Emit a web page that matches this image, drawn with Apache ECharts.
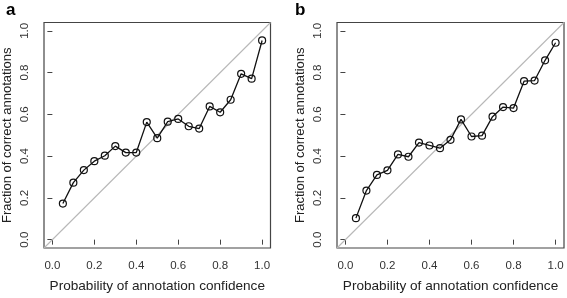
<!DOCTYPE html>
<html>
<head>
<meta charset="utf-8">
<script src="https://cdn.jsdelivr.net/npm/echarts@6/dist/echarts.min.js"></script>
<style>
html,body{margin:0;padding:0;background:#fff;}
#c{width:567px;height:298px;}
</style>
</head>
<body>
<div id="c"></div>
<script>
// Data
const probs = [0.05,0.10,0.15,0.20,0.25,0.30,0.35,0.40,0.45,0.50,0.55,0.60,0.65,0.70,0.75,0.80,0.85,0.90,0.95,1.00];
const fracA = [0.173,0.273,0.333,0.376,0.402,0.448,0.417,0.417,0.563,0.486,0.565,0.578,0.543,0.532,0.638,0.610,0.670,0.794,0.771,0.954];
const fracB = [0.103,0.235,0.310,0.332,0.408,0.397,0.465,0.451,0.438,0.478,0.576,0.494,0.498,0.589,0.635,0.630,0.759,0.762,0.859,0.943];
const tickVals = [0, 0.2, 0.4, 0.6, 0.8, 1.0];
const panelLabels = ['a', 'b'];
const xTitle = 'Probability of annotation confidence';
const yTitle = 'Fraction of correct annotations';
const axMin = -0.04, axMax = 1.04;

const FONT = '"Liberation Sans", Arial, sans-serif';
const grids = [
  {left: 43.5, top: 22.5, width: 227, height: 226.5, show: true, borderColor: '#444', borderWidth: 1.2, backgroundColor: 'transparent'},
  {left: 337, top: 22.5, width: 227, height: 226.5, show: true, borderColor: '#444', borderWidth: 1.2, backgroundColor: 'transparent'}
];
function xAx(i){
  return {
    type: 'value', gridIndex: i, min: axMin, max: axMax,
    splitLine: {show: false},
    axisLine: {show: false},
    axisTick: {show: true, customValues: tickVals, length: 5, inside: false, lineStyle: {color: '#444', width: 1}},
    axisLabel: {customValues: tickVals, margin: 12, color: '#333', fontSize: 11.5, fontFamily: FONT, formatter: v => v.toFixed(1)},
    name: xTitle, nameLocation: 'middle', nameGap: 31,
    nameTextStyle: {color: '#222', fontSize: 13.6, fontFamily: FONT}
  };
}
function yAx(i){
  return {
    type: 'value', gridIndex: i, min: axMin, max: axMax,
    splitLine: {show: false},
    axisLine: {show: false},
    axisTick: {show: true, customValues: tickVals, length: 5, inside: false, lineStyle: {color: '#444', width: 1}},
    axisLabel: {customValues: tickVals, rotate: 90, margin: 13, color: '#333', fontSize: 11.5, fontFamily: FONT, formatter: v => v.toFixed(1)},
    name: yTitle, nameLocation: 'middle', nameGap: 30,
    nameTextStyle: {color: '#222', fontSize: 13, fontFamily: FONT}
  };
}
function seriesFor(i, ys){
  return [
    {
      type: 'line', xAxisIndex: i, yAxisIndex: i, silent: true, symbol: 'none',
      data: [[axMin, axMin], [axMax, axMax]],
      lineStyle: {color: '#b8b8b8', width: 1.1}, z: 1
    },
    {
      type: 'line', xAxisIndex: i, yAxisIndex: i, silent: true,
      data: probs.map((p, k) => [p, ys[k]]),
      symbol: 'circle', symbolSize: 7,
      lineStyle: {color: '#111', width: 1.3},
      itemStyle: {color: 'rgba(0,0,0,0)', borderColor: '#111', borderWidth: 1.2},
      z: 3
    }
  ];
}
const chart = echarts.init(document.getElementById('c'), null, {renderer: 'canvas'});
chart.setOption({
  animation: false,
  backgroundColor: '#fff',
  title: [
    {text: panelLabels[0], left: 1, top: -3, textStyle: {fontSize: 17, fontWeight: 'bold', color: '#000', fontFamily: FONT}},
    {text: panelLabels[1], left: 290, top: -3, textStyle: {fontSize: 17, fontWeight: 'bold', color: '#000', fontFamily: FONT}}
  ],
  grid: grids,
  xAxis: [xAx(0), xAx(1)],
  yAxis: [yAx(0), yAx(1)],
  series: [...seriesFor(0, fracA), ...seriesFor(1, fracB)]
});
</script>
</body>
</html>
